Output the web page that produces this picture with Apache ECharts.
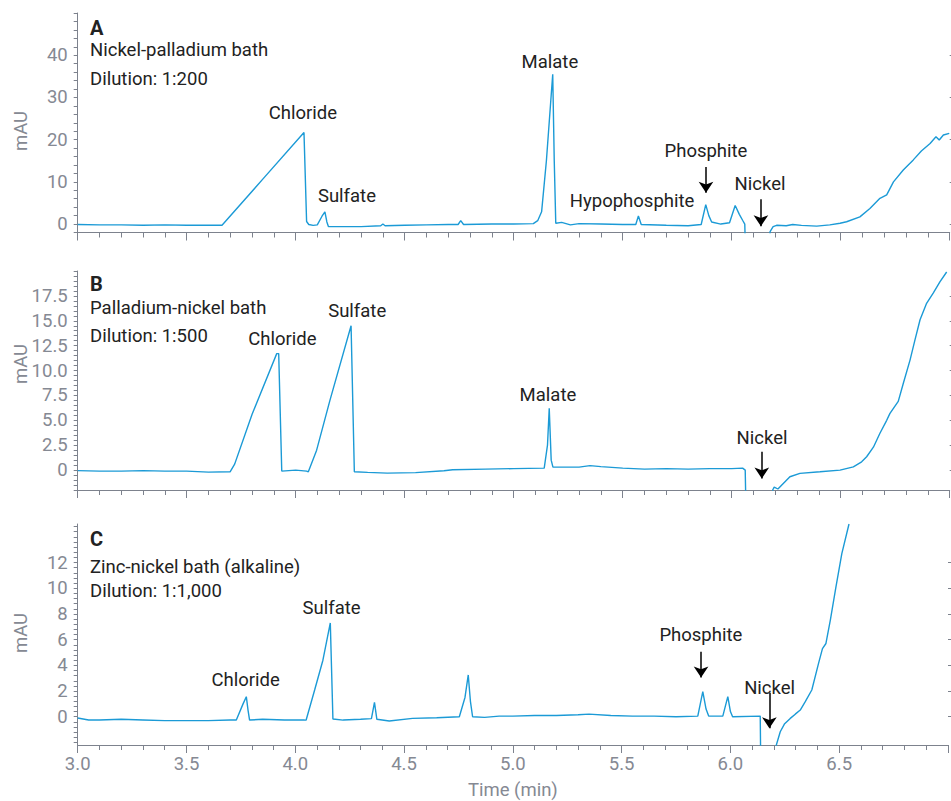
<!DOCTYPE html>
<html>
<head>
<meta charset="utf-8">
<script src="https://cdn.jsdelivr.net/npm/echarts@6/dist/echarts.min.js"></script>
<style>
html,body{margin:0;padding:0;background:#fff;}
#chart{width:951px;height:801px;}
</style>
</head>
<body>
<div id="chart"></div>
<script>
// ---------------- data (time in min, signal in mAU) ----------------
const timeA = [3.00,3.10,3.20,3.30,3.40,3.50,3.60,3.662,3.85,4.038,4.050,4.060,4.080,4.099,4.120,4.134,4.143,4.150,4.20,4.30,4.39,4.40,4.41,4.50,4.60,4.70,4.745,4.757,4.770,4.90,5.00,5.09,5.110,5.128,5.150,5.179,5.186,5.193,5.22,5.26,5.30,5.40,5.50,5.560,5.572,5.585,5.70,5.80,5.860,5.881,5.895,5.908,5.950,5.990,6.016,6.035,6.050,6.060,6.064,6.172,6.176,6.190,6.206,6.25,6.28,6.32,6.39,6.45,6.497,6.527,6.588,6.634,6.680,6.711,6.742,6.787,6.833,6.870,6.910,6.937,6.952,6.971,6.998];
const signalA = [-0.1,-0.2,-0.2,-0.3,-0.2,-0.3,-0.3,-0.3,10.7,21.7,0.6,-0.1,-0.3,-0.2,1.8,2.9,0.5,-0.6,-0.6,-0.6,-0.4,0.0,-0.4,-0.3,-0.2,-0.1,-0.1,0.8,-0.1,0.0,0.0,0.1,0.8,2.9,15,35.5,15,0.2,0.4,-0.2,0.1,0.0,-0.1,-0.1,1.9,-0.1,-0.3,-0.4,-0.1,4.6,2.0,0.5,0.0,0.3,4.4,2.3,0.9,0.0,-8,-8,-1.8,-0.6,-0.3,-0.4,-0.1,-0.3,-0.5,-0.2,0.2,0.55,1.7,3.7,6.1,6.9,10.0,12.8,15.2,17.3,19.1,20.7,19.9,21.1,21.5];

const timeB = [3.00,3.10,3.20,3.30,3.40,3.50,3.60,3.699,3.720,3.800,3.913,3.922,3.936,4.00,4.050,4.058,4.096,4.157,4.254,4.269,4.33,4.42,4.55,4.68,4.72,4.87,5.00,5.14,5.155,5.163,5.172,5.18,5.30,5.35,5.40,5.50,5.60,5.70,5.80,5.90,6.00,6.05,6.062,6.069,6.184,6.188,6.195,6.212,6.267,6.313,6.405,6.497,6.558,6.596,6.619,6.650,6.680,6.711,6.726,6.764,6.787,6.818,6.841,6.864,6.894,6.925,6.955,6.986];
const signalB = [-0.05,-0.1,-0.1,-0.05,-0.1,-0.1,-0.2,-0.17,0.6,5.6,11.7,11.7,-0.1,0.0,-0.1,-0.17,2.0,7.0,14.5,-0.17,-0.23,-0.3,-0.25,-0.07,0.03,0.1,0.15,0.2,2.5,6.2,1.0,0.3,0.3,0.45,0.35,0.2,0.1,0.15,0.1,0.15,0.15,0.2,0.0,-8,-8,-2.0,-1.7,-1.9,-0.67,-0.33,-0.17,0.0,0.33,0.83,1.34,2.3,3.7,5.0,5.7,6.9,8.7,11.05,13.1,15.1,16.75,17.8,18.9,19.9];

const timeC = [3.00,3.05,3.10,3.20,3.30,3.40,3.50,3.60,3.70,3.729,3.760,3.775,3.783,3.790,3.85,3.95,4.043,4.050,4.089,4.127,4.161,4.173,4.22,4.30,4.350,4.364,4.375,4.432,4.539,4.65,4.754,4.780,4.795,4.805,4.815,4.87,4.937,5.00,5.10,5.20,5.30,5.35,5.45,5.55,5.65,5.75,5.85,5.873,5.888,5.90,5.965,5.988,6.000,6.01,6.137,6.142,6.205,6.211,6.229,6.248,6.275,6.298,6.321,6.344,6.374,6.405,6.423,6.439,6.459,6.485,6.512,6.545];
const signalC = [-0.1,-0.25,-0.25,-0.2,-0.25,-0.3,-0.3,-0.3,-0.25,-0.26,1.0,1.56,0.5,-0.26,-0.2,-0.26,-0.26,-0.25,2.08,4.4,7.3,-0.18,-0.26,-0.2,-0.15,1.12,-0.2,-0.33,-0.13,-0.08,0.0,1.5,3.25,1.2,0.0,-0.05,0.05,0.05,0.1,0.1,0.15,0.2,0.1,0.05,0.05,0.0,0.05,1.95,0.6,0.05,0.05,1.56,0.4,0.0,0.05,-8,-8,-2.2,-1.17,-0.57,-0.13,0.2,0.52,1.17,2.08,4.15,5.3,5.7,7.5,10.1,12.7,15.0];

// tick labels
const yTicksA = [0,10,20,30,40];
const yTicksB = [0,2.5,5,7.5,10,12.5,15,17.5];
const yTicksC = [0,2,4,6,8,10,12];
const xTickLabels = ['3.0','3.5','4.0','4.5','5.0','5.5','6.0','6.5'];

// panel texts
const panels = [
  {letter:'A', lines:['Nickel-palladium bath','Dilution: 1:200']},
  {letter:'B', lines:['Palladium-nickel bath','Dilution: 1:500']},
  {letter:'C', lines:['Zinc-nickel bath (alkaline)','Dilution: 1:1,000']}
];
// peak labels (anchor in data coords: time, mAU)
const peakLabelsA = [['Chloride',4.033,26.3],['Sulfate',4.235,6.6],['Malate',5.166,38.4],['Hypophosphite',5.543,5.45],['Phosphite',5.882,17.3],['Nickel',6.130,9.5]];
const peakLabelsB = [['Chloride',3.939,13.2],['Sulfate',4.282,16.0],['Malate',5.157,7.5],['Nickel',6.139,3.2]];
const peakLabelsC = [['Chloride',3.772,2.86],['Sulfate',4.167,8.5],['Phosphite',5.864,6.36],['Nickel',6.180,2.23]];
// arrows [time, from, to]
const arrowsA = [[5.882,13.5,7.4],[6.134,5.9,-0.5]];
const arrowsB = [[6.138,1.84,-0.85]];
const arrowsC = [[5.865,5.06,3.05],[6.179,1.87,-0.9]];

// ---------------- helpers ----------------
function range(a,b,s){const r=[];const n=Math.round((b-a)/s);for(let i=0;i<=n;i++)r.push(+(a+i*s).toFixed(4));return r;}
const FONT='Roboto';
const FS=18.5;
const AXIS='#7d828d';
const LABEL='#858993';
const TXT='#222222';
const LINE='#1b9ad6';

const grids = [
  {left:77.7,right:1.3,top:13,bottom:568.5},
  {left:77.7,right:1.3,top:271,bottom:311},
  {left:77.7,right:1.3,top:524,bottom:56}
];
const yCfg = [
  {min:-2,max:50,major:yTicksA,minor:range(-2,50,2),fmt:v=>String(v)},
  {min:-2,max:20,major:yTicksB,minor:range(-2,20,0.5),fmt:v=>v===0?'0':v.toFixed(1)},
  {min:-2.2,max:15,major:yTicksC,minor:range(-2,14.8,0.4),fmt:v=>String(v)}
];

const xAxis = grids.map((g,i)=>({
  type:'value',gridIndex:i,min:3,max:7,interval:0.5,
  axisLine:{show:true,onZero:false,lineStyle:{color:AXIS,width:1}},
  axisTick:{show:true,length:8,lineStyle:{color:AXIS,width:1}},
  minorTick:{show:true,splitNumber:5,length:5,lineStyle:{color:AXIS,width:1}},
  splitLine:{show:false},minorSplitLine:{show:false},
  axisLabel:{show:i===2,margin:9,color:LABEL,fontSize:FS,fontFamily:FONT,
    formatter:v=>{const k=Math.round((v-3)/0.5);return k<xTickLabels.length?xTickLabels[k]:'';}},
  name:i===2?'Time (min)':'',nameLocation:'middle',nameGap:35,
  nameTextStyle:{color:LABEL,fontSize:FS,fontFamily:FONT}
}));

const yAxis = [];
yCfg.forEach((c,i)=>{
  yAxis.push({
    type:'value',gridIndex:i,min:c.min,max:c.max,
    axisLine:{show:true,onZero:false,lineStyle:{color:AXIS,width:1}},
    axisTick:{show:true,length:4,customValues:c.minor,lineStyle:{color:AXIS,width:1}},
    axisLabel:{show:true,margin:10,customValues:c.major,formatter:c.fmt,color:LABEL,fontSize:FS,fontFamily:FONT},
    splitLine:{show:false}
  });
  yAxis.push({
    type:'value',gridIndex:i,min:c.min,max:c.max,
    axisLine:{show:false,onZero:false},
    axisTick:{show:true,length:8,customValues:c.major,lineStyle:{color:AXIS,width:1}},
    axisLabel:{show:false},
    splitLine:{show:false}
  });
});

function zip(t,v){return t.map((x,i)=>[x,v[i]]);}
function mkSeries(i,t,v,labels,arrows){
  return {
    type:'line',xAxisIndex:i,yAxisIndex:i*2,data:zip(t,v),
    showSymbol:false,symbol:'none',clip:true,smooth:false,animation:false,silent:true,
    lineStyle:{color:LINE,width:1.4},
    markPoint:{
      symbol:'circle',symbolSize:0,silent:true,animation:false,
      label:{show:true,position:'inside',color:TXT,fontSize:FS,fontFamily:FONT,formatter:p=>p.name},
      data:labels.map(l=>({name:l[0],coord:[l[1],l[2]]}))
    },
    markLine:{
      silent:true,animation:false,symbol:['none','arrow'],symbolSize:11,
      label:{show:false},
      lineStyle:{color:'#000',width:1.5,type:'solid'},
      data:arrows.map(a=>[{coord:[a[0],a[1]]},{coord:[a[0],a[2]]}])
    }
  };
}

const series = [
  mkSeries(0,timeA,signalA,peakLabelsA,arrowsA),
  mkSeries(1,timeB,signalB,peakLabelsB,arrowsB),
  mkSeries(2,timeC,signalC,peakLabelsC,arrowsC)
];

const panelY = [[28,50,79],[284,308,336],[539,567,591]];
const mauY = [131,364,633];
const graphic = [];
panels.forEach((p,i)=>{
  graphic.push({type:'text',x:90,y:panelY[i][0],silent:true,style:{text:p.letter,font:'bold 20px '+FONT,fill:TXT,verticalAlign:'middle'}});
  p.lines.forEach((ln,j)=>{
    graphic.push({type:'text',x:90,y:panelY[i][j+1],silent:true,style:{text:ln,font:FS+'px '+FONT,fill:TXT,verticalAlign:'middle'}});
  });
  graphic.push({type:'text',x:21,y:mauY[i],rotation:Math.PI/2,silent:true,style:{text:'mAU',font:FS+'px '+FONT,fill:LABEL,align:'center',verticalAlign:'middle'}});
});

const chart = echarts.init(document.getElementById('chart'),null,{renderer:'svg'});
chart.setOption({
  animation:false,
  backgroundColor:'#fff',
  grid:grids,
  xAxis:xAxis,
  yAxis:yAxis,
  series:series,
  graphic:graphic
});
</script>
</body>
</html>
